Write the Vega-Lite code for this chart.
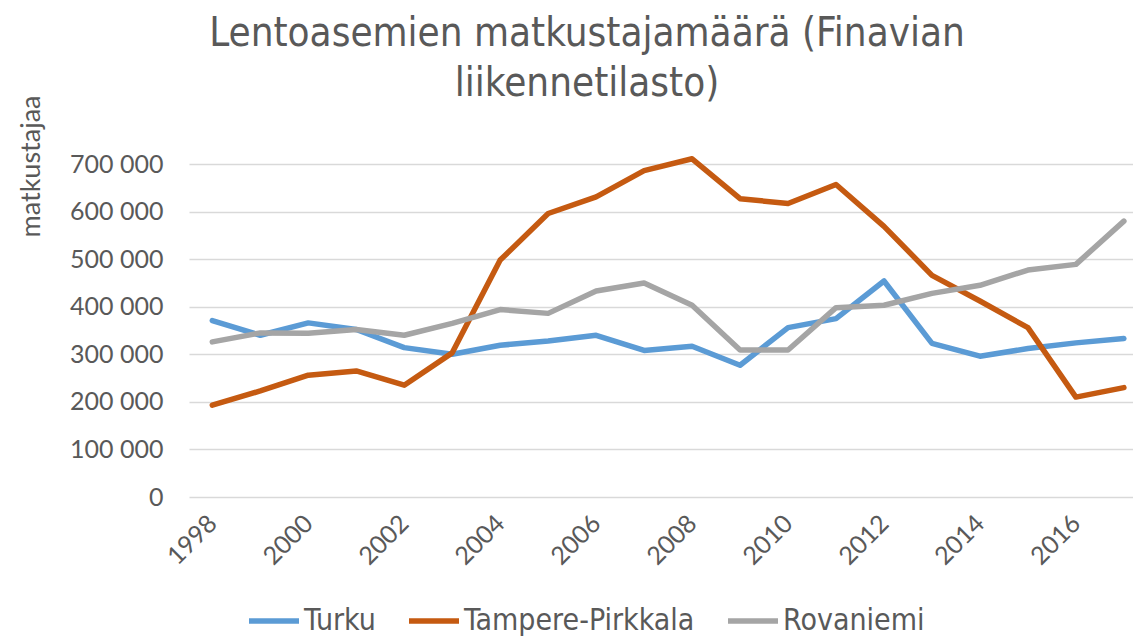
{
  "$schema": "https://vega.github.io/schema/vega-lite/v6.json",
  "width": 944,
  "height": 333,
  "autosize": "none",
  "padding": {"left": 189, "top": 164, "right": 0, "bottom": 143},
  "background": "white",
  "config": {
    "view": {"stroke": null},
    "locale": {"number": {"decimal": ",", "thousands": " ", "grouping": [3], "currency": ["", " €"]}}
  },
  "title": {
    "text": ["Lentoasemien matkustajamäärä (Finavian", "liikennetilasto)"],
    "font": "DejaVu Sans Condensed",
    "fontSize": 40,
    "fontWeight": "normal",
    "color": "#595959",
    "anchor": "middle",
    "frame": "group",
    "dx": -74,
    "lineHeight": 50,
    "offset": -9
  },
  "data": {
    "values": [
      {"year": 1998, "airport": "Turku", "value": 371000},
      {"year": 1999, "airport": "Turku", "value": 340000},
      {"year": 2000, "airport": "Turku", "value": 366000},
      {"year": 2001, "airport": "Turku", "value": 352000},
      {"year": 2002, "airport": "Turku", "value": 314000},
      {"year": 2003, "airport": "Turku", "value": 300000},
      {"year": 2004, "airport": "Turku", "value": 319000},
      {"year": 2005, "airport": "Turku", "value": 328000},
      {"year": 2006, "airport": "Turku", "value": 340000},
      {"year": 2007, "airport": "Turku", "value": 308000},
      {"year": 2008, "airport": "Turku", "value": 317000},
      {"year": 2009, "airport": "Turku", "value": 277000},
      {"year": 2010, "airport": "Turku", "value": 356000},
      {"year": 2011, "airport": "Turku", "value": 375000},
      {"year": 2012, "airport": "Turku", "value": 454000},
      {"year": 2013, "airport": "Turku", "value": 323000},
      {"year": 2014, "airport": "Turku", "value": 296000},
      {"year": 2015, "airport": "Turku", "value": 312000},
      {"year": 2016, "airport": "Turku", "value": 324000},
      {"year": 2017, "airport": "Turku", "value": 333000},
      {"year": 1998, "airport": "Tampere-Pirkkala", "value": 193000},
      {"year": 1999, "airport": "Tampere-Pirkkala", "value": 223000},
      {"year": 2000, "airport": "Tampere-Pirkkala", "value": 256000},
      {"year": 2001, "airport": "Tampere-Pirkkala", "value": 265000},
      {"year": 2002, "airport": "Tampere-Pirkkala", "value": 235000},
      {"year": 2003, "airport": "Tampere-Pirkkala", "value": 303000},
      {"year": 2004, "airport": "Tampere-Pirkkala", "value": 498000},
      {"year": 2005, "airport": "Tampere-Pirkkala", "value": 596000},
      {"year": 2006, "airport": "Tampere-Pirkkala", "value": 631000},
      {"year": 2007, "airport": "Tampere-Pirkkala", "value": 686000},
      {"year": 2008, "airport": "Tampere-Pirkkala", "value": 711000},
      {"year": 2009, "airport": "Tampere-Pirkkala", "value": 627000},
      {"year": 2010, "airport": "Tampere-Pirkkala", "value": 617000},
      {"year": 2011, "airport": "Tampere-Pirkkala", "value": 657000},
      {"year": 2012, "airport": "Tampere-Pirkkala", "value": 569000},
      {"year": 2013, "airport": "Tampere-Pirkkala", "value": 466000},
      {"year": 2014, "airport": "Tampere-Pirkkala", "value": 412000},
      {"year": 2015, "airport": "Tampere-Pirkkala", "value": 356000},
      {"year": 2016, "airport": "Tampere-Pirkkala", "value": 210000},
      {"year": 2017, "airport": "Tampere-Pirkkala", "value": 230000},
      {"year": 1998, "airport": "Rovaniemi", "value": 326000},
      {"year": 1999, "airport": "Rovaniemi", "value": 345000},
      {"year": 2000, "airport": "Rovaniemi", "value": 344000},
      {"year": 2001, "airport": "Rovaniemi", "value": 352000},
      {"year": 2002, "airport": "Rovaniemi", "value": 340000},
      {"year": 2003, "airport": "Rovaniemi", "value": 365000},
      {"year": 2004, "airport": "Rovaniemi", "value": 394000},
      {"year": 2005, "airport": "Rovaniemi", "value": 386000},
      {"year": 2006, "airport": "Rovaniemi", "value": 433000},
      {"year": 2007, "airport": "Rovaniemi", "value": 450000},
      {"year": 2008, "airport": "Rovaniemi", "value": 403000},
      {"year": 2009, "airport": "Rovaniemi", "value": 309000},
      {"year": 2010, "airport": "Rovaniemi", "value": 309000},
      {"year": 2011, "airport": "Rovaniemi", "value": 398000},
      {"year": 2012, "airport": "Rovaniemi", "value": 403000},
      {"year": 2013, "airport": "Rovaniemi", "value": 428000},
      {"year": 2014, "airport": "Rovaniemi", "value": 445000},
      {"year": 2015, "airport": "Rovaniemi", "value": 477000},
      {"year": 2016, "airport": "Rovaniemi", "value": 489000},
      {"year": 2017, "airport": "Rovaniemi", "value": 580000}
    ]
  },
  "mark": {"type": "line", "strokeWidth": 5.5, "strokeCap": "round", "strokeJoin": "round", "clip": false},
  "encoding": {
    "x": {
      "field": "year",
      "type": "quantitative",
      "scale": {"domain": [1997.514, 2017.19], "nice": false, "zero": false},
      "axis": {
        "title": null,
        "values": [1998, 2000, 2002, 2004, 2006, 2008, 2010, 2012, 2014, 2016],
        "format": "d",
        "grid": false,
        "domain": false,
        "ticks": false,
        "labelAngle": -45,
        "labelAlign": "right",
        "labelBaseline": "middle",
        "labelPadding": 22,
        "labelFont": "Lato",
        "labelFontSize": 25,
        "labelColor": "#595959",
        "labelOverlap": false,
        "labelFlush": false
      }
    },
    "y": {
      "field": "value",
      "type": "quantitative",
      "scale": {"domain": [0, 700000], "nice": false},
      "axis": {
        "title": "matkustajaa",
        "titleFont": "Lato",
        "titleFontSize": 27,
        "titleFontWeight": "normal",
        "titleColor": "#595959",
        "titleAngle": -90,
        "titleX": -158,
        "titleY": 2,
        "titleAlign": "center",
        "titleBaseline": "middle",
        "values": [0, 100000, 200000, 300000, 400000, 500000, 600000, 700000],
        "format": ",d",
        "domain": false,
        "ticks": false,
        "grid": true,
        "gridColor": "#D9D9D9",
        "gridWidth": 1.5,
        "labelPadding": 26,
        "labelFont": "Lato",
        "labelFontSize": 25,
        "labelColor": "#595959"
      }
    },
    "color": {
      "field": "airport",
      "type": "nominal",
      "scale": {"domain": ["Turku", "Tampere-Pirkkala", "Rovaniemi"], "range": ["#5B9BD5", "#C55A11", "#A5A5A5"]},
      "legend": {
        "title": null,
        "orient": "none",
        "direction": "horizontal",
        "legendX": 57,
        "legendY": 429,
        "symbolType": "stroke",
        "symbolStrokeWidth": 5.5,
        "symbolSize": 2500,
        "labelFont": "DejaVu Sans Condensed",
        "labelFontSize": 30,
        "labelLimit": 0,
        "labelColor": "#595959",
        "labelOffset": 2,
        "columnPadding": 22
      }
    }
  }
}
